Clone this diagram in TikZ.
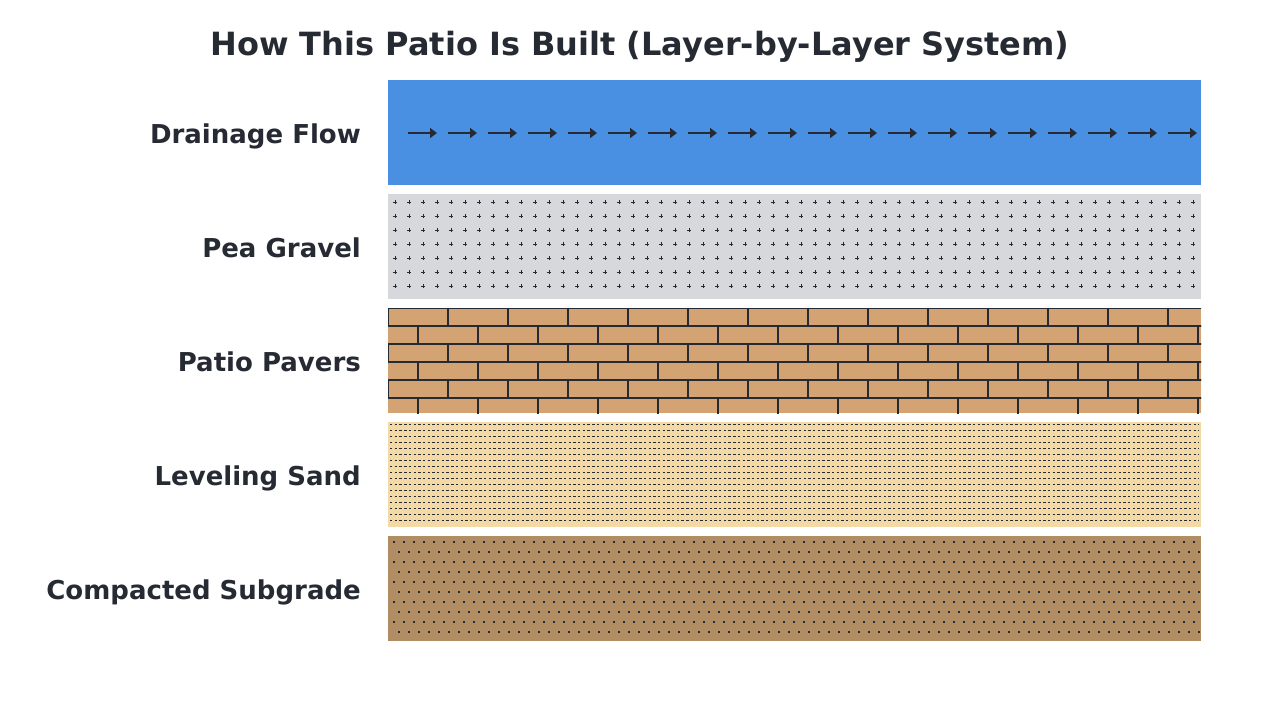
\documentclass[tikz,border=0pt]{standalone}
\usepackage{fontspec}
\setmainfont{DejaVu Sans}
\usepackage{tikz}
\usetikzlibrary{arrows.meta, positioning}
\usepackage{xcolor}
\definecolor{flowblue}{HTML}{4A90E2}
\definecolor{gravelgray}{HTML}{D6D8DC}
\definecolor{paverbrown}{HTML}{D4A373}
\definecolor{sandtan}{HTML}{F3D9A6}
\definecolor{soilbrown}{HTML}{B08D63}
\definecolor{inkdark}{HTML}{262A33}

\begin{document}
\begin{tikzpicture}[
  x=1pt, y=-1pt,
  band/.style={draw=none, minimum width=813pt, minimum height=105pt,
               inner sep=0pt, outer sep=0pt},
  lbl/.style={font=\fontsize{26}{30}\selectfont\bfseries, text=inkdark,
              inner sep=0pt, text height=21.5pt, text depth=0pt},
  flowarrow/.style={-{Triangle[length=7pt, width=10pt]}, line width=2pt, draw=inkdark}
]
\useasboundingbox (0,0) rectangle (1280,720);

\node[font=\fontsize{32}{38}\selectfont\bfseries, text=inkdark] (title) at (640,47)
  {How This Patio Is Built (Layer-by-Layer System)};

% layer bands
\node[band, fill=flowblue] (flow) at (794.5,132.5) {};
\node[band, fill=gravelgray] (gravel) at (794.5,246.5) {};
\node[band, fill=paverbrown] (pavers) at (794.5,360.5) {};
\node[band, fill=sandtan] (sand) at (794.5,474.5) {};
\node[band, fill=soilbrown] (subgrade) at (794.5,588.5) {};

% labels
\node[lbl, left=27pt of flow] (flowlbl) {Drainage Flow};
\node[lbl, left=27pt of gravel] (gravellbl) {Pea Gravel};
\node[lbl, left=27pt of pavers] (paverslbl) {Patio Pavers};
\node[lbl, left=27pt of sand] (sandlbl) {Leveling Sand};
\node[lbl, left=27pt of subgrade] (subgradelbl) {Compacted Subgrade};

% drainage arrows
\foreach \k in {0,...,19}
  \draw[flowarrow] (408+40*\k,133) -- (437+40*\k,133);

% pea gravel
\foreach \j in {0,...,6}
  \foreach \k in {0,...,57}
    \draw[inkdark, line width=0.9pt]
      (395+14*\k-1.6,202+14*\j) -- +(3.2,0)
      (395+14*\k,202+14*\j-1.6) -- +(0,3.2);

% pavers
\begin{scope}
  \clip (pavers.north west) rectangle (pavers.south east);
  \foreach \j in {0,...,5} {
    \pgfmathsetmacro{\xoff}{-30*mod(\j,2)}
    \foreach \k in {0,...,14}
      \draw[inkdark, line width=1.2pt]
        (388+\xoff+60*\k,308+18*\j) rectangle +(60,18);
  }
\end{scope}

% leveling sand
\foreach \j in {0,...,16}
  \draw[inkdark, line width=0.9pt, dash pattern=on 2.4pt off 2.3pt]
    (390,424.5+6*\j) -- (1199,424.5+6*\j);

% compacted subgrade
\foreach \j in {0,...,9} {
  \pgfmathsetmacro{\xoff}{5*mod(\j,2)}
  \foreach \k in {0,...,80}
    \fill[inkdark] (393+\xoff+10*\k,541+10*\j) rectangle +(2,2);
}
\end{tikzpicture}
\end{document}
